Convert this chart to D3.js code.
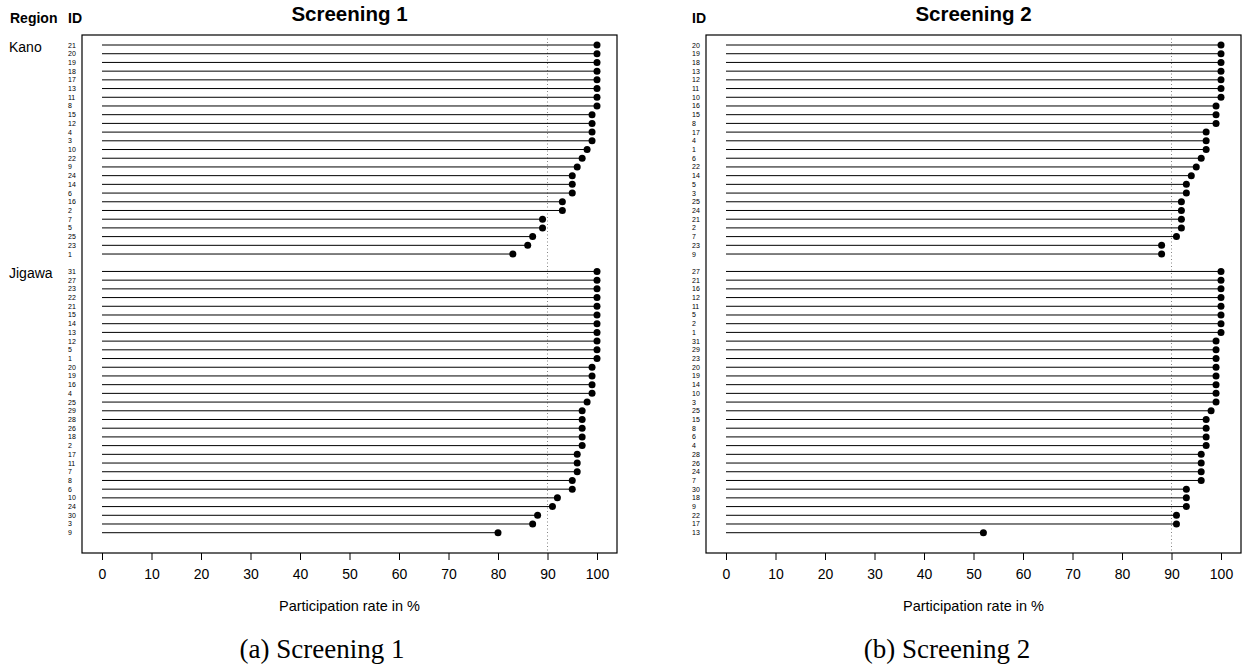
<!DOCTYPE html>
<html>
<head>
<meta charset="utf-8">
<script src="https://cdn.jsdelivr.net/npm/d3@7"></script>
<style>
  body { margin: 0; background: #fff; }
  svg { display: block; font-family: "Liberation Sans", Arial, sans-serif; }
</style>
</head>
<body>
<svg width="1248" height="672"></svg>
<script>
// Screening 1 data (order as plotted, top to bottom)
const s1KanoIds = ["21","20","19","18","17","13","11","8","15","12","4","3","10","22","9","24","14","6","16","2","7","5","25","23","1"];
const s1KanoVals = [100,100,100,100,100,100,100,100,99,99,99,99,98,97,96,95,95,95,93,93,89,89,87,86,83];
const s1JigawaIds = ["31","27","23","22","21","15","14","13","12","5","1","20","19","16","4","25","29","28","26","18","2","17","11","7","8","6","10","24","30","3","9"];
const s1JigawaVals = [100,100,100,100,100,100,100,100,100,100,100,99,99,99,99,98,97,97,97,97,97,96,96,96,95,95,92,91,88,87,80];

// Screening 2 data
const s2KanoIds = ["20","19","18","13","12","11","10","16","15","8","17","4","1","6","22","14","5","3","25","24","21","2","7","23","9"];
const s2KanoVals = [100,100,100,100,100,100,100,99,99,99,97,97,97,96,95,94,93,93,92,92,92,92,91,88,88];
const s2JigawaIds = ["27","21","16","12","11","5","2","1","31","29","23","20","19","14","10","3","25","15","8","6","4","28","26","24","7","30","18","9","22","17","13"];
const s2JigawaVals = [100,100,100,100,100,100,100,100,99,99,99,99,99,99,99,99,98,97,97,97,97,96,96,96,96,93,93,93,91,91,52];

const regions = ["Kano", "Jigawa"];
const xTicks = [0,10,20,30,40,50,60,70,80,90,100];
const threshold = 90;

const svg = d3.select("svg");

// Строим список строк с пустой строкой между регионами
function buildRows(groups) {
  const rows = [];
  let slot = 0;
  groups.forEach((g, gi) => {
    if (gi > 0) slot += 1;
    g.ids.forEach((id, i) => {
      rows.push({ region: g.region, id: id, value: g.vals[i], slot: slot, first: i === 0 });
      slot += 1;
    });
  });
  return rows;
}

function drawPanel(opts) {
  const rows = buildRows([
    { region: regions[0], ids: opts.kanoIds, vals: opts.kanoVals },
    { region: regions[1], ids: opts.jigawaIds, vals: opts.jigawaVals }
  ]);

  const box = opts.box;
  const x = d3.scaleLinear().domain([0, 100]).range([opts.x0, opts.x100]);
  const y = d3.scaleLinear().domain([-1.15, 58.33]).range([box.top, box.bottom]);

  const g = svg.append("g");

  // Заголовок
  g.append("text")
    .attr("x", (box.left + box.right) / 2)
    .attr("y", 21)
    .attr("text-anchor", "middle")
    .attr("font-weight", "bold")
    .attr("font-size", 20.5)
    .text(opts.title);

  if (opts.showRegion) {
    g.append("text")
      .attr("x", 10).attr("y", 23)
      .attr("font-weight", "bold").attr("font-size", 14)
      .text("Region");
    g.selectAll(".region")
      .data(rows.filter(r => r.first))
      .join("text")
      .attr("class", "region")
      .attr("x", 9)
      .attr("y", d => y(d.slot) + 6.5)
      .attr("font-size", 14)
      .text(d => d.region);
  }

  g.append("text")
    .attr("x", opts.idX).attr("y", 23)
    .attr("font-weight", "bold").attr("font-size", 14)
    .text("ID");

  // Рамка
  g.append("rect")
    .attr("x", box.left).attr("y", box.top)
    .attr("width", box.right - box.left)
    .attr("height", box.bottom - box.top)
    .attr("fill", "none")
    .attr("stroke", "#000")
    .attr("stroke-width", 1.2);

  // Пунктир на 90%
  g.append("line")
    .attr("x1", x(threshold)).attr("x2", x(threshold))
    .attr("y1", box.top).attr("y2", box.bottom)
    .attr("stroke", "#666")
    .attr("stroke-width", 0.8)
    .attr("stroke-dasharray", "1,2.5");

  // Подписи ID
  g.selectAll(".idlab")
    .data(rows)
    .join("text")
    .attr("class", "idlab")
    .attr("x", opts.idX)
    .attr("y", d => y(d.slot) + 2.5)
    .attr("font-size", 7)
    .attr("fill", "#000")
    .text(d => d.id);

  // Линии
  g.selectAll(".stem")
    .data(rows)
    .join("line")
    .attr("class", "stem")
    .attr("x1", x(0))
    .attr("x2", d => x(d.value))
    .attr("y1", d => y(d.slot))
    .attr("y2", d => y(d.slot))
    .attr("stroke", "#000")
    .attr("stroke-width", 1);

  // Точки
  g.selectAll(".dot")
    .data(rows)
    .join("circle")
    .attr("class", "dot")
    .attr("cx", d => x(d.value))
    .attr("cy", d => y(d.slot))
    .attr("r", 3.5)
    .attr("fill", "#000");

  // Ось X
  const axis = d3.axisBottom(x).tickValues(xTicks).tickSize(7).tickPadding(9);
  const ax = g.append("g")
    .attr("transform", `translate(0,${box.bottom})`)
    .call(axis);
  ax.select(".domain").remove();
  ax.selectAll(".tick line").attr("stroke", "#000");
  ax.selectAll(".tick text")
    .attr("font-size", 14)
    .attr("font-family", "Liberation Sans, Arial, sans-serif")
    .attr("fill", "#000");

  g.append("text")
    .attr("x", (box.left + box.right) / 2)
    .attr("y", 611)
    .attr("text-anchor", "middle")
    .attr("font-size", 14.5)
    .text("Participation rate in %");

  // Подпись под рисунком
  g.append("text")
    .attr("x", opts.captionX)
    .attr("y", 658)
    .attr("text-anchor", "middle")
    .attr("font-family", "Liberation Serif, 'Times New Roman', serif")
    .attr("font-size", 27)
    .text(opts.caption);
}

drawPanel({
  title: "Screening 1",
  caption: "(a) Screening 1",
  captionX: 322,
  showRegion: true,
  idX: 68,
  box: { left: 82, right: 617, top: 35, bottom: 553 },
  x0: 102, x100: 597,
  kanoIds: s1KanoIds, kanoVals: s1KanoVals,
  jigawaIds: s1JigawaIds, jigawaVals: s1JigawaVals
});

drawPanel({
  title: "Screening 2",
  caption: "(b) Screening 2",
  captionX: 947,
  showRegion: false,
  idX: 692,
  box: { left: 706, right: 1241, top: 35, bottom: 553 },
  x0: 726, x100: 1221,
  kanoIds: s2KanoIds, kanoVals: s2KanoVals,
  jigawaIds: s2JigawaIds, jigawaVals: s2JigawaVals
});
</script>
</body>
</html>
